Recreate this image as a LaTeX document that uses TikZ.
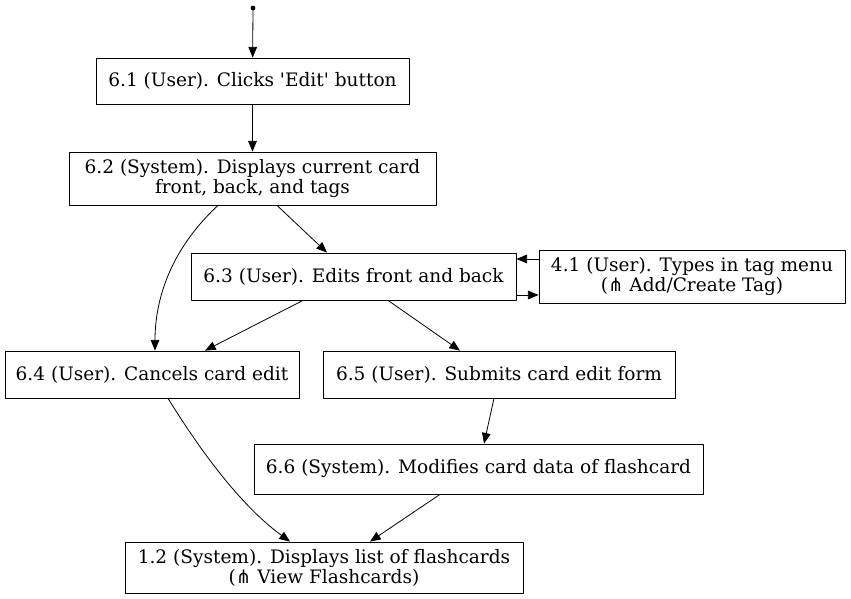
\documentclass[tikz,border=0pt]{standalone}
\usepackage{fontspec}
\setmainfont{DejaVu Serif}
\newfontfamily\symfont{DejaVu Sans}
\usetikzlibrary{arrows.meta}
\newcommand{\pf}{{\symfont ⋔}}
\tikzset{
  stepbox/.style={draw,line width=0.6pt,align=center,inner sep=0pt,font=\fontsize{13.9}{15}\selectfont},
  flow/.style={-{Triangle[length=8pt,width=6.5pt]},line width=0.6pt}
}
\begin{document}
\begin{tikzpicture}[line cap=round,line join=round,x=0.75pt,y=-0.75pt]
\useasboundingbox (0,0) rectangle (851,599);
\fill (253,8) circle (1.8pt) coordinate (st);
\node [stepbox,minimum width=313*0.75pt,minimum height=46*0.75pt] (s61) at (252.5,81) {6.1 (User). Clicks \textquotesingle Edit\textquotesingle{} button};
\node [stepbox,minimum width=367*0.75pt,minimum height=53*0.75pt] (s62) at (252.5,178.5) {6.2 (System). Displays current card\\front, back, and tags};
\node [stepbox,minimum width=325*0.75pt,minimum height=47*0.75pt] (s63) at (353.5,276.5) {6.3 (User). Edits front and back};
\node [stepbox,minimum width=306*0.75pt,minimum height=53*0.75pt] (s41) at (692,276.5) {4.1 (User). Types in tag menu\\(\pf{} Add/Create Tag)};
\node [stepbox,minimum width=294*0.75pt,minimum height=47*0.75pt] (s64) at (152,374.5) {6.4 (User). Cancels card edit};
\node [stepbox,minimum width=352*0.75pt,minimum height=47*0.75pt] (s65) at (499,374.5) {6.5 (User). Submits card edit form};
\node [stepbox,minimum width=449*0.75pt,minimum height=50*0.75pt] (s66) at (478.5,469) {6.6 (System). Modifies card data of flashcard};
\node [stepbox,minimum width=398*0.75pt,minimum height=51*0.75pt] (s12) at (324,567.5) {1.2 (System). Displays list of flashcards\\(\pf{} View Flashcards)};
% edges
\draw [flow] (st) -- (s61);
\draw [flow] (s61) -- (s62);
\draw [flow] (s62.south -| 277,0) -- (s63.north -| 327,0);
\draw [flow] (s62.south -| 218,0) .. controls (170,250) and (155,300) .. (s64.north -| 155,0);
\draw [flow] (s63.south -| 303,0) -- (s64.north -| 205,0);
\draw [flow] (s63.south -| 388,0) -- (s65.north -| 460,0);
\draw [flow] (s41.west |- 0,259) -- (s63.east |- 0,259);
\draw [flow] (s63.east |- 0,295) -- (s41.west |- 0,295);
\draw [flow] (s64.south -| 168,0) .. controls (200,450) and (240,505) .. (s12.north -| 290,0);
\draw [flow] (s65.south -| 494,0) -- (s66.north -| 484,0);
\draw [flow] (s66.south -| 440,0) -- (s12.north -| 370,0);
\end{tikzpicture}
\end{document}
